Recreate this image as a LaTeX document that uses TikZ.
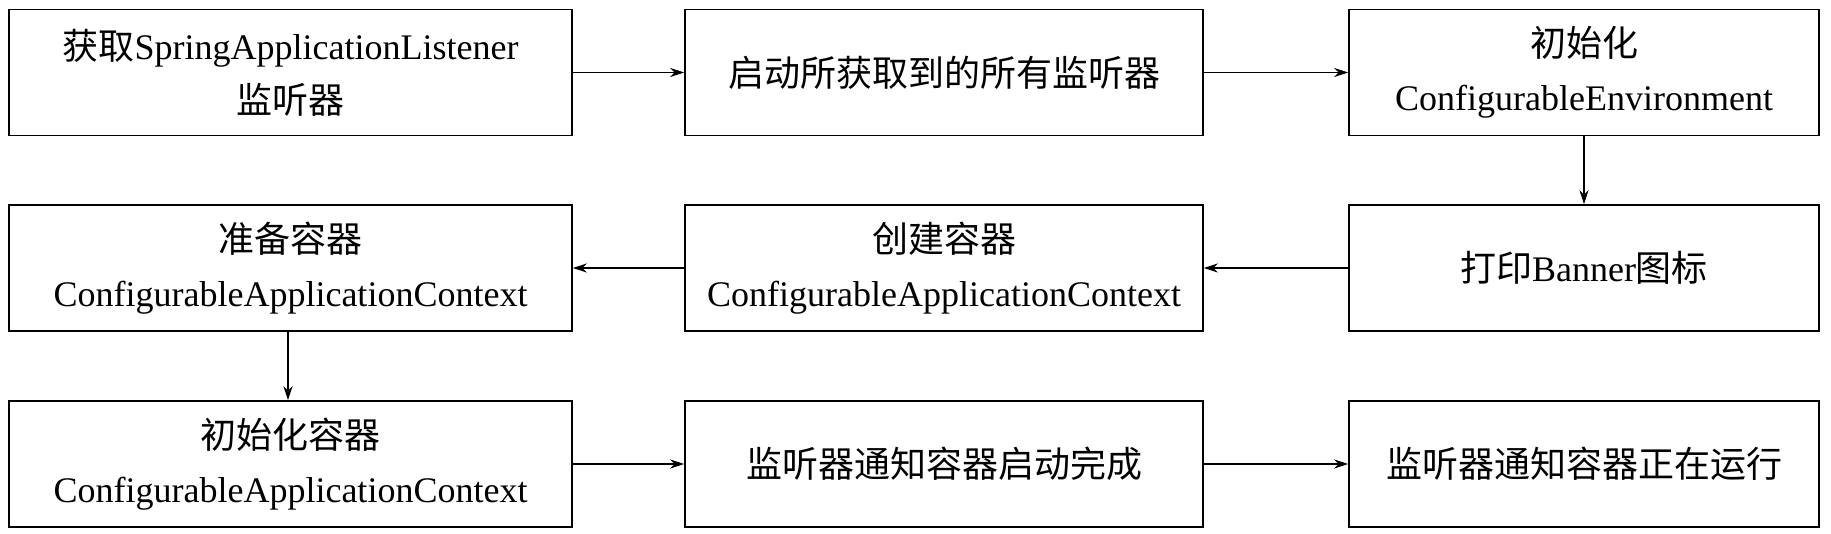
\documentclass[tikz,border=0pt]{standalone}
\usepackage{fontspec}
\setmainfont{Liberation Serif}
\newfontfamily\cjk{Noto Sans CJK SC}
\usetikzlibrary{arrows.meta}
\begin{document}
\begin{tikzpicture}[x=1pt,y=1pt,
  box/.style={draw,line width=1.6pt,minimum height=126pt,align=center,font=\fontsize{36}{54}\selectfont,inner sep=0pt},
  c1/.style={box,minimum width=563pt},
  c2/.style={box,minimum width=518pt},
  c3/.style={box,minimum width=470pt},
  arr/.style={-{Stealth[length=14pt,width=9pt]},line width=1.2pt}]
\useasboundingbox (0,0) rectangle (1831,534);
\node[c1] (a) at (290.5,461.5) {{\cjk 获取}SpringApplicationListener\\{\cjk 监听器}};
\node[c2] (b) at (944,461.5) {{\cjk 启动所获取到的所有监听器}};
\node[c3] (c) at (1584,461.5) {{\cjk 初始化}\\ConfigurableEnvironment};
\node[c3] (d) at (1584,266) {{\cjk 打印}Banner{\cjk 图标}};
\node[c2] (e) at (944,266) {{\cjk 创建容器}\\ConfigurableApplicationContext};
\node[c1] (f) at (290.5,266) {{\cjk 准备容器}\\ConfigurableApplicationContext};
\node[c1] (g) at (290.5,70) {{\cjk 初始化容器}\\ConfigurableApplicationContext};
\node[c2] (h) at (944,70) {{\cjk 监听器通知容器启动完成}};
\node[c3] (i) at (1584,70) {{\cjk 监听器通知容器正在运行}};
\draw[arr] (a) -- (b);
\draw[arr] (b) -- (c);
\draw[arr] (c) -- (d);
\draw[arr] (d) -- (e);
\draw[arr] (e) -- (f);
\draw[arr] (f.south -| 288,0) -- (g.north -| 288,0);
\draw[arr] (g) -- (h);
\draw[arr] (h) -- (i);
\end{tikzpicture}
\end{document}
